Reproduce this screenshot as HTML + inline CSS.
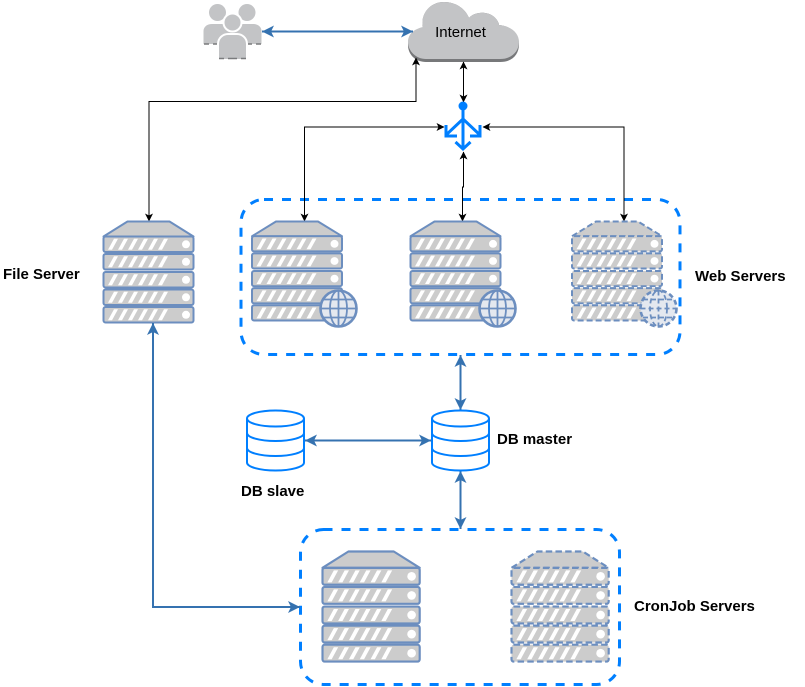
<!DOCTYPE html>
<html>
<head>
<meta charset="utf-8">
<style>
html,body{margin:0;padding:0;background:#fff}
svg{display:block}
text{font-family:"Liberation Sans",sans-serif;font-size:15px;fill:#000}
.b{font-weight:bold}
</style>
</head>
<body>
<svg width="805" height="687" viewBox="0 0 805 687" xmlns="http://www.w3.org/2000/svg">
<defs>
<g id="rack">
  <rect x="0" y="0" width="90" height="15.5" rx="2" fill="#ccc"/>
  <path d="M4.500 13.300L10.500 2.300H14.500L8.500 13.300ZM14.500 13.300L20.500 2.300H24.500L18.500 13.300ZM24.500 13.300L30.500 2.300H34.500L28.500 13.300ZM34.500 13.300L40.500 2.300H44.500L38.500 13.300ZM44.500 13.300L50.500 2.300H54.500L48.500 13.300ZM54.500 13.300L60.500 2.300H64.500L58.500 13.300Z" fill="#fff" stroke="none"/>
  <circle cx="82.5" cy="7.8" r="4" fill="#fff" stroke="none"/>
</g>
<g id="server">
  <path d="M0 15L24 0H66L90 15Z" fill="#ccc"/>
  <use href="#rack" y="15"/>
  <use href="#rack" y="32.5"/>
  <use href="#rack" y="50.5"/>
  <use href="#rack" y="68"/>
  <use href="#rack" y="85.5"/>
</g>
<g id="globe">
  <circle r="18" fill="#e4e8ef" stroke-width="2.600"/>
  <ellipse rx="8.5" ry="18" fill="none"/>
  <path d="M0 -18V18M-18 0H18M-15.5 -9H15.5M-15.5 9H15.5" fill="none"/>
</g>
<g id="db">
  <path d="M0 8V52C0 56.5 13 60 28.5 60S57 56.5 57 52V8" fill="#fff"/>
  <ellipse cx="28.5" cy="8" rx="28.5" ry="8" fill="#fff"/>
  <path d="M0 22.5C0 27 13 30.5 28.5 30.5S57 27 57 22.5M0 37.5C0 42 13 45.5 28.5 45.5S57 42 57 37.5" fill="none"/>
</g>
<marker id="k" markerWidth="9" markerHeight="9" refX="7.5" refY="4.500" orient="auto-start-reverse" markerUnits="userSpaceOnUse">
  <path d="M0 0.500L8 4.500L0 8.500L2 4.500Z" fill="#000"/>
</marker>
<marker id="u" markerWidth="14" markerHeight="14" refX="12" refY="7" orient="auto-start-reverse" markerUnits="userSpaceOnUse">
  <path d="M0 1L12 7L0 13L3 7Z" fill="#3572B0"/>
</marker>
</defs>

<!-- groups -->
<rect x="241" y="199.500" width="439" height="155" rx="23" fill="none" stroke="#007FFF" stroke-width="3" stroke-dasharray="9 9"/>
<rect x="300.500" y="529.500" width="319" height="155" rx="23" fill="none" stroke="#007FFF" stroke-width="3" stroke-dasharray="9 9"/>

<!-- users -->
<g fill="#c3c4c6">
  <circle cx="217.500" cy="12.500" r="8.500"/>
  <circle cx="247" cy="12.500" r="8.500"/>
  <path d="M203.500 44V31C203.500 27 207 24 212 24H253C258 24 261.500 27 261.500 31V44Z"/>
  <g stroke="#fff" stroke-width="2">
    <circle cx="232.500" cy="22.500" r="9"/>
    <path d="M218 60V44C218 38 223 34 228 34H237C242 34 247 38 247 44V60Z"/>
  </g>
</g>
<path d="M204 44H209M213 44H217M248 44H252M256 44H261M219 58.500H224M228 58.500H237M241 58.500H246" stroke="#7a7b7d" stroke-width="1.500" fill="none"/>

<!-- cloud -->
<path d="M408 45C408 37 414 30 423 28C420 14 430 2 444 2C455 2 465 8 469 18C474 12 486 11 493 16C497 19 499 23 499 25C511 26 519 34 519 44C519 55 512 62 500 62H426C416 62 408 55 408 45Z" fill="#77787a"/>
<path d="M408 42C408 34 414 29 423 27C420 14 430 2 444 2C455 2 465 8 469 18C474 12 486 11 493 16C497 19 499 23 499 25C511 26 519 33 519 42C519 51 512 59 500 59H426C416 59 408 51 408 42Z" fill="#c3c4c6"/>
<text x="460.500" y="37" text-anchor="middle">Internet</text>

<!-- connectors black -->
<g fill="none" stroke="#000" stroke-width="1">
  <path d="M149 221V101.500H416V58" marker-start="url(#k)" marker-end="url(#k)"/>
  <path d="M463.500 62V102" marker-start="url(#k)" marker-end="url(#k)"/>
  <path d="M304.500 221V127H444" marker-start="url(#k)" marker-end="url(#k)"/>
  <path d="M624 221V127H483" marker-start="url(#k)" marker-end="url(#k)"/>
  <path d="M463.500 152V187H462.500V221" marker-start="url(#k)" marker-end="url(#k)"/>
</g>

<!-- switch icon -->
<g fill="none" stroke="#007FFF" stroke-width="3">
  <path d="M463 106V149"/>
  <path d="M463 119L446 135M463 119L480 135"/>
  <path d="M446 125V136H457M480 125V136H470"/>
  <path d="M455.500 142L463 149L470.500 142"/>
</g>
<circle cx="463" cy="106" r="4.500" fill="#007FFF"/>

<!-- servers -->
<g stroke="#6C8EBF" stroke-width="2" stroke-linejoin="round">
  <use href="#server" transform="translate(103.500 221.500)"/>
  <use href="#server" transform="translate(252 221.500) scale(1 .98)"/>
  <use href="#server" transform="translate(410.500 221.500) scale(1 .98)"/>
  <use href="#server" transform="translate(322.500 551.500) scale(1.08 1.09)"/>
  <g stroke-dasharray="6 3">
    <use href="#server" transform="translate(572 221.500) scale(1 .98)"/>
    <use href="#server" transform="translate(511.500 551.500) scale(1.08 1.09)"/>
  </g>
  <g stroke-width="1.800">
    <use href="#globe" transform="translate(338.500 308.500)"/>
    <use href="#globe" transform="translate(497.500 308.500)"/>
    <g stroke-dasharray="5 3">
      <use href="#globe" transform="translate(658.500 308.500)"/>
    </g>
  </g>
</g>

<!-- blue connectors -->
<g fill="none" stroke="#3572B0" stroke-width="2">
  <path d="M262 31.500H413" marker-start="url(#u)" marker-end="url(#u)"/>
  <path d="M153 323V607H300" marker-start="url(#u)" marker-end="url(#u)"/>
  <path d="M460.500 355V410" marker-start="url(#u)" marker-end="url(#u)"/>
  <path d="M460.500 471V529" marker-start="url(#u)" marker-end="url(#u)"/>
  <path d="M305 440.500H431" marker-start="url(#u)" marker-end="url(#u)"/>
</g>

<!-- dbs -->
<g stroke="#007FFF" stroke-width="2">
  <use href="#db" transform="translate(247 410.500)"/>
  <use href="#db" transform="translate(432 410.500)"/>
</g>

<!-- labels -->
<text class="b" x="3" y="279">File Server</text>
<text class="b" x="695" y="281">Web Servers</text>
<text class="b" x="497" y="444">DB master</text>
<text class="b" x="241" y="496">DB slave</text>
<text class="b" x="634" y="611">CronJob Servers</text>
</svg>
</body>
</html>
